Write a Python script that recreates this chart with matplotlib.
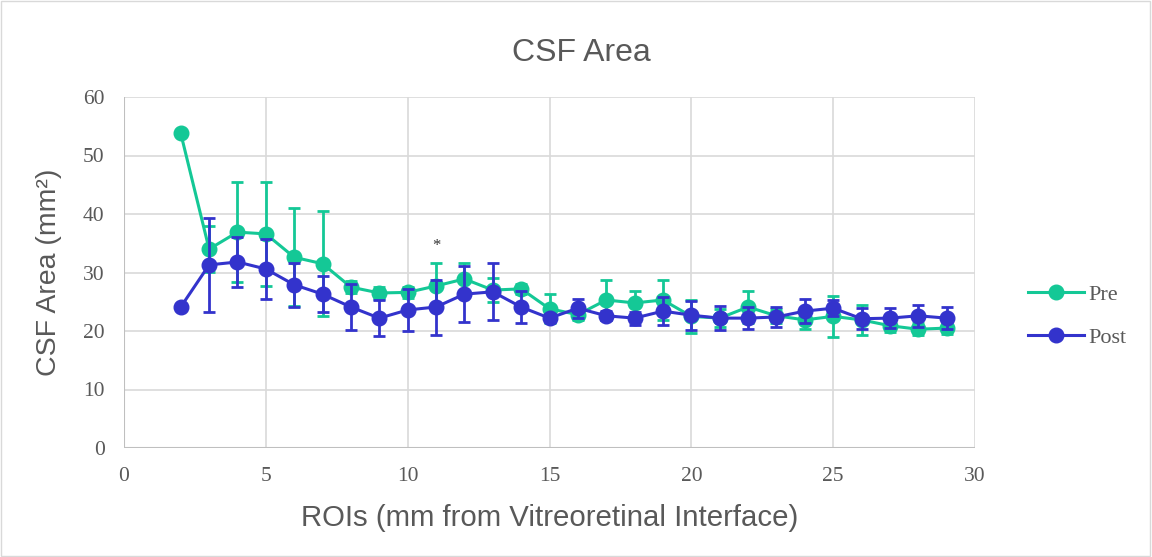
import matplotlib.pyplot as plt
import numpy as np

plt.rcParams['font.family'] = ['Liberation Sans', 'DejaVu Sans']

# data
rois = list(range(2, 30))
pre = [53.8, 34.0, 36.9, 36.6, 32.6, 31.5, 27.5, 26.5, 26.6, 27.7, 28.9, 27.0, 27.2, 23.8,
       22.8, 25.3, 24.8, 25.3, 22.5, 22.2, 24.1, 22.6, 21.9, 22.5, 21.9, 20.9, 20.3, 20.5]
pre_err = [0, 3.9, 8.6, 8.9, 8.4, 9.0, 1.0, 1.0, 1.0, 3.9, 2.8, 2.0, 0.9, 2.5,
           1.0, 3.4, 2.1, 3.4, 2.8, 1.5, 2.8, 1.2, 1.6, 3.5, 2.6, 1.0, 1.0, 1.0]
post = [24.1, 31.3, 31.8, 30.6, 27.9, 26.3, 24.1, 22.2, 23.6, 24.1, 26.3, 26.7, 24.1, 22.2,
        23.9, 22.6, 22.2, 23.4, 22.7, 22.2, 22.2, 22.4, 23.4, 23.9, 22.1, 22.2, 22.6, 22.2]
post_err = [0, 8.1, 4.2, 5.1, 3.8, 3.1, 3.9, 3.1, 3.6, 4.7, 4.8, 4.85, 2.7, 0.7,
            1.6, 0.8, 1.1, 2.4, 2.5, 2.0, 1.9, 1.7, 2.1, 1.4, 1.8, 1.7, 1.9, 1.9]

green = '#14C896'
blue = '#3333CC'
grey_txt = '#595959'

fig = plt.figure(figsize=(11.52, 5.57), dpi=100)
ax = fig.add_axes([124/1152, 1-448/557, (975-124)/1152, (448-97)/557])

ax.errorbar(rois, pre, yerr=pre_err, color=green, lw=2.2, marker='o', ms=10.5,
            capsize=4.5, capthick=2, elinewidth=2, label='Pre', zorder=3)
ax.errorbar(rois, post, yerr=post_err, color=blue, lw=2.2, marker='o', ms=10.5,
            capsize=4.5, capthick=2, elinewidth=2, label='Post', zorder=4)

ax.text(11, 34.6, '*', ha='center', va='center', fontsize=12,
        family='Liberation Serif', color='#333333')

ax.set_xlim(0, 30)
ax.set_ylim(0, 60)
ax.set_xticks(np.arange(0, 31, 5))
ax.set_yticks(np.arange(0, 61, 10))
ax.grid(True, color='#d9d9d9', lw=1.2)
ax.set_axisbelow(True)
for s in ax.spines.values():
    s.set_visible(False)
ax.tick_params(length=0, labelsize=15.5, labelcolor=grey_txt, pad=14)
for lab in ax.get_xticklabels() + ax.get_yticklabels():
    lab.set_family('Liberation Serif')
ax.axhline(0, color='#bfbfbf', lw=1.5, zorder=1)
ax.axvline(0, color='#bfbfbf', lw=1.5, zorder=1)

fig.text(581/1152, 1-53/557, 'CSF Area', fontsize=23, color=grey_txt, ha='center', va='center')
ax.set_xlabel('ROIs (mm from Vitreoretinal Interface)', fontsize=21.2, color=grey_txt, labelpad=13)
ax.set_ylabel('CSF Area (mm²)', fontsize=20.5, color=grey_txt, labelpad=15)

handles, labels = ax.get_legend_handles_labels()
handles = [h[0] for h in handles]
leg = fig.legend(handles, labels, loc='center left', bbox_to_anchor=(1008/1152, 1-316/557),
                 frameon=False, prop={'family': 'Liberation Serif', 'size': 16},
                 handlelength=2.5, labelspacing=1.0, handletextpad=0.2)
for t in leg.get_texts():
    t.set_color(grey_txt)

fig.patches.append(plt.Rectangle((0.001, 0.002), 0.997, 0.996, transform=fig.transFigure,
                                 fill=False, edgecolor='#d9d9d9', lw=1))

fig.savefig('out.png', dpi=100, facecolor='white')
